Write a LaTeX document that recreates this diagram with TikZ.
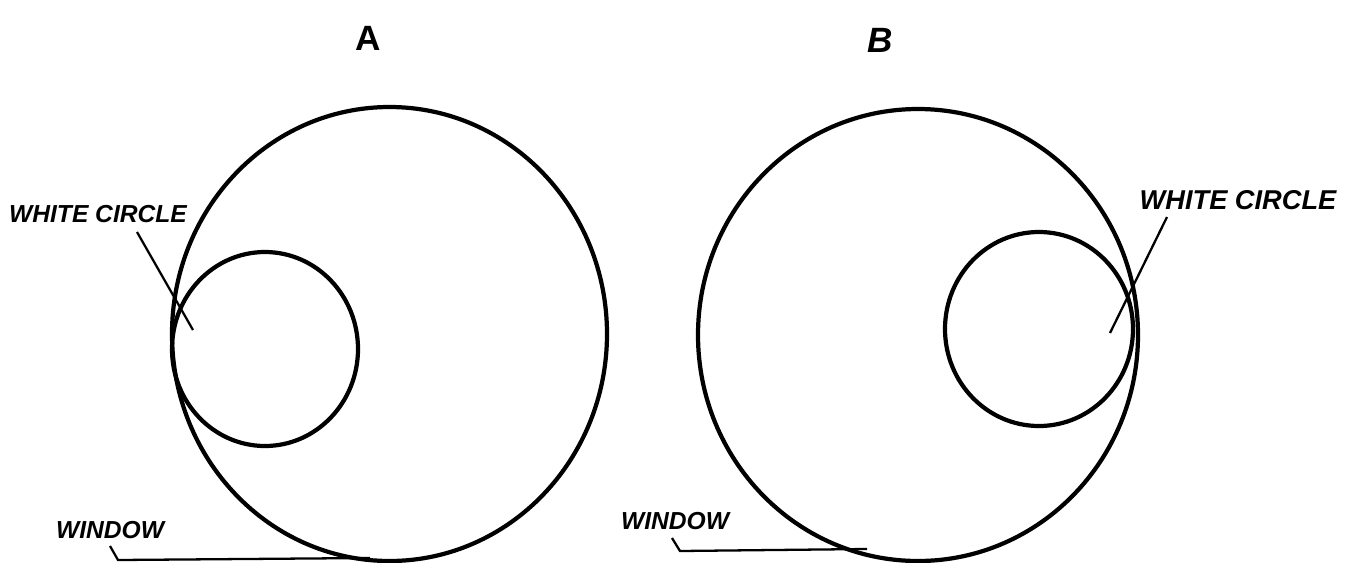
\documentclass[tikz,border=0pt]{standalone}
\usepackage{fontspec}
\setmainfont{Liberation Sans}
\usetikzlibrary{calc,positioning}

\begin{document}
\begin{tikzpicture}[x=0.02cm, y=-0.02cm,
	ring/.style={line width=2.4pt},
	lead/.style={line width=1.3pt},
	tag/.style={font=\fontsize{14}{16}\selectfont\bfseries\itshape, inner sep=0pt},
	head/.style={font=\fontsize{20}{22}\selectfont\bfseries, inner sep=0pt}]
	\useasboundingbox (0,0) rectangle (1346,562);
	% view A
	\node[head] (hA) at (368,38) {A};
	\draw[ring] (389.5,334) ellipse (217.5 and 227);
	\draw[ring] (265,349) ellipse (93 and 97);
	\node[tag] (wcA) at (98,214) {WHITE CIRCLE};
	\node[tag] (wnA) at (110,530) {WINDOW};
	\coordinate (wcAs) at (137,232);
	\coordinate (wcAe) at (193,330);
	\coordinate (wnAs) at (110,546);
	\coordinate (wnAk) at (118,560);
	\coordinate (wnAe) at (370,558);
	\draw[lead] (wcAs) -- (wcAe);
	\draw[lead] (wnAs) -- (wnAk) -- (wnAe);
	% view B
	\node[head, font=\fontsize{20}{22}\selectfont\bfseries\itshape] (hB) at (880,40) {B};
	\draw[ring] (918,335) ellipse (220 and 226);
	\draw[ring] (1039,329) ellipse (94 and 97);
	\node[tag, font=\fontsize{15.5}{17}\selectfont\bfseries\itshape] (wcB) at (1238,200) {WHITE CIRCLE};
	\node[tag] (wnB) at (675,521) {WINDOW};
	\coordinate (wcBs) at (1167,217);
	\coordinate (wcBe) at (1110,333);
	\coordinate (wnBs) at (672,538);
	\coordinate (wnBk) at (680,551);
	\coordinate (wnBe) at (867,549);
	\draw[lead] (wcBs) -- (wcBe);
	\draw[lead] (wnBs) -- (wnBk) -- (wnBe);
\end{tikzpicture}
\end{document}
